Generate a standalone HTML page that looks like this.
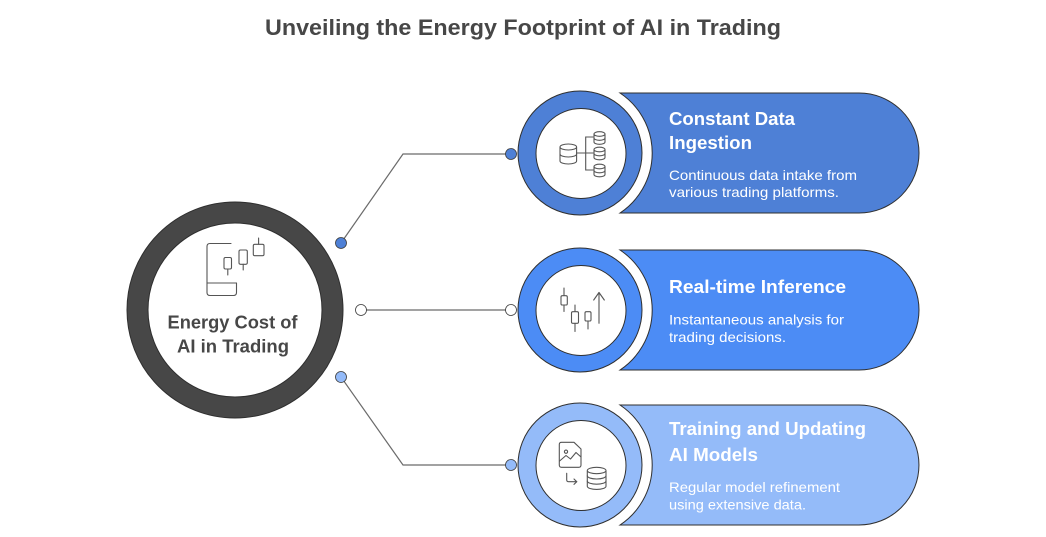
<!DOCTYPE html>
<html><head><meta charset="utf-8"><style>
html,body{margin:0;padding:0;background:#fff;}
svg{display:block;}
text{font-family:"Liberation Sans",Arial,sans-serif;}
</style></head><body>
<svg width="1046" height="537" viewBox="0 0 1046 537" xmlns="http://www.w3.org/2000/svg">
<rect width="1046" height="537" fill="#fff"/>
<text x="523" y="35" text-anchor="middle" font-size="22" font-weight="bold" fill="#474747" textLength="516" lengthAdjust="spacingAndGlyphs">Unveiling the Energy Footprint of AI in Trading</text>

<!-- connectors -->
<g stroke="#6b6b6b" stroke-width="1.2" fill="none">
<polyline points="341,243 403,154 511,154"/>
<line x1="361" y1="310" x2="511" y2="310"/>
<polyline points="341,377 403,465 511,465"/>
</g>
<g stroke="#3a3a3a" stroke-width="0.8">
<circle cx="341" cy="243" r="5.5" fill="#4e80d6"/>
<circle cx="511" cy="154" r="5.5" fill="#4e80d6"/>
<circle cx="361" cy="310" r="5.5" fill="#fff"/>
<circle cx="511" cy="310" r="5.5" fill="#fff"/>
<circle cx="341" cy="377" r="5.5" fill="#94bbf9"/>
<circle cx="511" cy="465" r="5.5" fill="#94bbf9"/>
</g>

<!-- central circle -->
<circle cx="235" cy="310" r="108" fill="#474747" stroke="#2e2e2e" stroke-width="1"/>
<circle cx="235" cy="310" r="87" fill="#fff" stroke="#2e2e2e" stroke-width="1"/>
<g stroke="#555" stroke-width="1.1" fill="none" stroke-linecap="round" stroke-linejoin="round">
<path d="M231,243.5 L210,243.5 Q207,243.5 207,246.5 L207,292.5 Q207,295.5 210,295.5 L233.5,295.5 Q236.5,295.5 236.5,292.5 L236.5,283"/>
<line x1="207" y1="283" x2="236.5" y2="283"/>
<rect x="224" y="257.5" width="7.5" height="11.5" rx="1.5"/>
<line x1="227.8" y1="269" x2="227.8" y2="275"/>
<rect x="239" y="250" width="8.3" height="14.3" rx="1.5"/>
<line x1="243.2" y1="264.3" x2="243.2" y2="270"/>
<rect x="253.3" y="244.3" width="10.7" height="11.4" rx="1.5"/>
<line x1="258.6" y1="238" x2="258.6" y2="244.3"/>
</g>
<text x="232.5" y="328.5" text-anchor="middle" font-size="18.5" font-weight="bold" fill="#474747" textLength="130" lengthAdjust="spacingAndGlyphs">Energy Cost of</text>
<text x="233" y="352.5" text-anchor="middle" font-size="18.5" font-weight="bold" fill="#474747" textLength="112" lengthAdjust="spacingAndGlyphs">AI in Trading</text>

<!-- Card 1 -->
<path d="M620,93 L859,93 A60,60 0 0 1 859,213 L620,213 A72,72 0 0 0 620,93 Z" fill="#4e80d6" stroke="#2f2f2f" stroke-width="1"/>
<circle cx="580" cy="153" r="62" fill="#4e80d6" stroke="#2f2f2f" stroke-width="1"/>
<circle cx="581" cy="153.5" r="45" fill="#fff" stroke="#2f2f2f" stroke-width="1"/>
<g stroke="#555" stroke-width="1.1" fill="none" stroke-linecap="round">
<path d="M560,147 A8.3,3 0 0 0 576.6,147 A8.3,3 0 0 0 560,147 L560,161 A8.3,3 0 0 0 576.6,161 L576.6,147"/>
<path d="M560,154 A8.3,3 0 0 0 576.6,154"/>
<line x1="576.6" y1="153" x2="585.7" y2="153"/>
<path d="M593,137 L585.7,137 L585.7,170 L593,170"/>
<line x1="585.7" y1="153" x2="593" y2="153"/>
<path d="M594,134 A5.5,2.3 0 0 0 605,134 A5.5,2.3 0 0 0 594,134 L594,142 A5.5,2.3 0 0 0 605,142 L605,134"/>
<path d="M594,138 A5.5,2.3 0 0 0 605,138"/>
<path d="M594,149.5 A5.5,2.3 0 0 0 605,149.5 A5.5,2.3 0 0 0 594,149.5 L594,157.5 A5.5,2.3 0 0 0 605,157.5 L605,149.5"/>
<path d="M594,153.5 A5.5,2.3 0 0 0 605,153.5"/>
<path d="M594,166.5 A5.5,2.3 0 0 0 605,166.5 A5.5,2.3 0 0 0 594,166.5 L594,174.5 A5.5,2.3 0 0 0 605,174.5 L605,166.5"/>
<path d="M594,170.5 A5.5,2.3 0 0 0 605,170.5"/>
</g>
<g fill="#fff">
<text x="669" y="125" font-size="18" font-weight="bold" textLength="126" lengthAdjust="spacingAndGlyphs">Constant Data</text>
<text x="669" y="149" font-size="18" font-weight="bold" textLength="83" lengthAdjust="spacingAndGlyphs">Ingestion</text>
<text x="669" y="180" font-size="14" textLength="188" lengthAdjust="spacingAndGlyphs">Continuous data intake from</text>
<text x="669" y="197" font-size="14" textLength="170" lengthAdjust="spacingAndGlyphs">various trading platforms.</text>
</g>

<!-- Card 2 -->
<path d="M620,250 L859,250 A60,60 0 0 1 859,370 L620,370 A72,72 0 0 0 620,250 Z" fill="#4c8cf5" stroke="#2f2f2f" stroke-width="1"/>
<circle cx="580" cy="310" r="62" fill="#4c8cf5" stroke="#2f2f2f" stroke-width="1"/>
<circle cx="581" cy="310.5" r="45" fill="#fff" stroke="#2f2f2f" stroke-width="1"/>
<g stroke="#555" stroke-width="1.1" fill="none" stroke-linecap="round" stroke-linejoin="round">
<line x1="564" y1="288" x2="564" y2="311.5"/>
<rect x="561" y="295.7" width="6.3" height="9.3" rx="1.3" fill="#fff"/>
<line x1="575" y1="305" x2="575" y2="331.5"/>
<rect x="571.5" y="311.7" width="7" height="11.6" rx="1.3" fill="#fff"/>
<line x1="588" y1="321" x2="588" y2="329"/>
<rect x="585" y="311.7" width="6" height="9.3" rx="1.3" fill="#fff"/>
<line x1="599" y1="323.3" x2="599" y2="292.5"/>
<polyline points="593.7,300 599,292.5 604.3,300"/>
</g>
<g fill="#fff">
<text x="669" y="293" font-size="18" font-weight="bold" textLength="177" lengthAdjust="spacingAndGlyphs">Real-time Inference</text>
<text x="669" y="324.5" font-size="14" textLength="175" lengthAdjust="spacingAndGlyphs">Instantaneous analysis for</text>
<text x="669" y="342" font-size="14" textLength="117" lengthAdjust="spacingAndGlyphs">trading decisions.</text>
</g>

<!-- Card 3 -->
<path d="M620,405 L859,405 A60,60 0 0 1 859,525 L620,525 A72,72 0 0 0 620,405 Z" fill="#94bbf9" stroke="#2f2f2f" stroke-width="1"/>
<circle cx="580" cy="465" r="62" fill="#94bbf9" stroke="#2f2f2f" stroke-width="1"/>
<circle cx="581" cy="465.5" r="45" fill="#fff" stroke="#2f2f2f" stroke-width="1"/>
<g stroke="#555" stroke-width="1.1" fill="none" stroke-linecap="round" stroke-linejoin="round">
<path d="M561.5,442.3 L574,442.3 L581,449 L581,465 Q581,467.3 578.8,467.3 L561.5,467.3 Q559.3,467.3 559.3,465 L559.3,444.5 Q559.3,442.3 561.5,442.3 Z"/>
<path d="M559.6,461 L566,455.5 L570.5,459 L576,452.5 L581,457"/>
<circle cx="566" cy="451.7" r="1.6"/>
<path d="M566.7,473.3 L566.7,479.7 Q566.7,481.7 568.7,481.7 L576.7,481.7"/>
<polyline points="574,479 576.7,481.7 574,484.4"/>
<path d="M587.3,470.5 A9.35,3.2 0 0 0 606,470.5 A9.35,3.2 0 0 0 587.3,470.5 L587.3,486.2 A9.35,3.2 0 0 0 606,486.2 L606,470.5"/>
<path d="M587.3,475.8 A9.35,3.2 0 0 0 606,475.8"/>
<path d="M587.3,481 A9.35,3.2 0 0 0 606,481"/>
</g>
<g fill="#fff">
<text x="669" y="435" font-size="18" font-weight="bold" textLength="197" lengthAdjust="spacingAndGlyphs">Training and Updating</text>
<text x="669" y="461" font-size="18" font-weight="bold" textLength="89" lengthAdjust="spacingAndGlyphs">AI Models</text>
<text x="669" y="492" font-size="14" textLength="171" lengthAdjust="spacingAndGlyphs">Regular model refinement</text>
<text x="669" y="509.5" font-size="14" textLength="137" lengthAdjust="spacingAndGlyphs">using extensive data.</text>
</g>
</svg>
</body></html>
